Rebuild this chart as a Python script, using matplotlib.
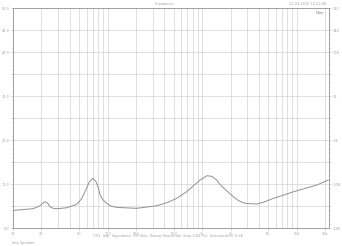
import matplotlib
matplotlib.use("Agg")
import matplotlib.pyplot as plt
from matplotlib.ticker import FixedLocator, NullFormatter

# impedance curve (Hz, Ohm)
freq = [10, 16.3, 19.3, 20.5, 21.8, 23.2, 24.6, 26.5, 29.0, 37.0, 47.2, 53,
        57.7, 61.3, 64.1, 69.9, 75.7, 80, 83.3, 89.5, 98, 109, 125, 203, 332,
        424, 538, 680, 810, 950, 1125, 1270, 1430, 1550, 1790, 2140, 2420,
        2850, 3790, 4650, 5680, 9280, 16300, 21600]
ohm = [4.02, 4.39, 5.07, 5.6, 5.98, 5.7, 4.84, 4.5, 4.39, 4.61, 5.39, 6.6,
       8.25, 9.5, 10.5, 11.3, 10.5, 9.1, 7.5, 6.4, 5.61, 5.0, 4.7, 4.48, 5.07,
       5.75, 6.75, 8.2, 9.61, 10.9, 11.9, 11.75, 10.9, 9.9, 8.6, 7.11, 6.25,
       5.61, 5.45, 6.0, 6.75, 8.25, 9.77, 10.9]

x_grid = [20, 30, 40, 50, 60, 70, 80, 90, 100, 200, 300, 400, 500, 600, 700,
          800, 900, 1000, 2000, 3000, 4000, 5000, 6000, 7000, 8000, 9000,
          10000, 20000]
x_labels_at = [10, 20, 50, 100, 200, 500, 1000, 2000, 5000, 10000, 20000]
x_labels = ["10", "20", "50", "100", "200", "500", "1k", "2k", "5k", "10k", "20k"]

y_grid = [0, 5, 10, 15, 20, 25, 30, 35, 40, 45, 50]
y_left_labels = ["0.0", "", "10.0", "", "20.0", "", "30.0", "", "40.0", "45.0", "50.0"]
y_right_labels = ["-180", "", "-108", "", "-36", "", "36", "", "108", "144", "180"]

txt = "#a0a0a0"
fig = plt.figure(figsize=(3.42, 2.46), dpi=100)
ax = fig.add_axes([0.038, 0.073, 0.924, 0.894])

ax.plot(freq, ohm, color="#909090", linewidth=0.7)

ax.set_xscale("log")
ax.set_xlim(10, 22000)
ax.set_ylim(0, 50)

for f in x_grid:
    ax.axvline(f, color="#d2d2d2", linewidth=0.5, zorder=0)
for v in y_grid[1:-1]:
    ax.axhline(v, color="#d2d2d2", linewidth=0.5, zorder=0)

ax.xaxis.set_major_locator(FixedLocator(x_labels_at))
ax.xaxis.set_minor_locator(FixedLocator([]))
ax.xaxis.set_minor_formatter(NullFormatter())
ax.set_xticklabels(x_labels)
ax.set_yticks(y_grid)
ax.set_yticklabels(y_left_labels)
ax.set_yticks(range(0, 51), minor=True)
ax.tick_params(axis="both", which="both", labelsize=2.5, colors=txt,
               length=1.5, width=0.4, pad=1)
ax.tick_params(axis="y", which="minor", length=1.0)

ax2 = ax.twinx()
ax2.set_ylim(0, 50)
ax2.set_yticks(y_grid)
ax2.set_yticklabels(y_right_labels)
ax2.set_yticks(range(0, 51), minor=True)
ax2.tick_params(axis="y", which="both", labelsize=2.5, colors=txt,
                length=1.5, width=0.4, pad=1)
ax2.tick_params(axis="y", which="minor", length=1.0)

for a in (ax, ax2):
    for s in a.spines.values():
        s.set_color("#a0a0a0")
        s.set_linewidth(0.6)

fig.text(0.48, 0.99, "Impedance", fontsize=2.5, color=txt, ha="center", va="top")
fig.text(0.955, 0.99, "12-03-2015 10:22:48", fontsize=2.5, color=txt,
         ha="right", va="top")
fig.text(0.948, 0.955, "Ohm", fontsize=2.5, color="#707070", ha="right", va="top")
fig.text(0.49, 0.04, "CH1  Imp  Impedance  50 Ohm  Sweep Sinusoidal  Step 1/24 Oct  Unsmoothed  0 dB",
         fontsize=2.5, color=txt, ha="center", va="center")
fig.text(0.035, 0.012, "Imp Speaker", fontsize=2.5, color=txt, ha="left", va="center")

fig.savefig("out.png", dpi=100, facecolor="white")
